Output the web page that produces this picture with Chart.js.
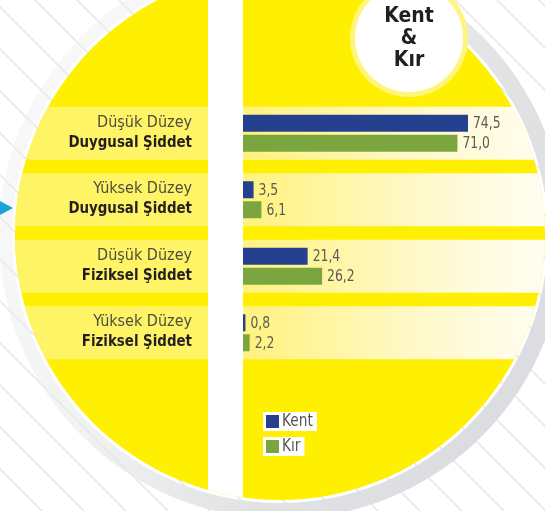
<!DOCTYPE html>
<html>
<head>
<meta charset="utf-8">
<script src="https://cdn.jsdelivr.net/npm/chart.js"></script>
<style type="text/css">
  body{ margin:0; background:#fff; }
  #wrap{ width:545px; height:511px; position:relative; }
</style>
</head>
<body>
<div id="wrap"><canvas id="chart" width="545" height="511"></canvas></div>
<script>
  // data
  const levels = ['Düşük Düzey', 'Yüksek Düzey', 'Düşük Düzey', 'Yüksek Düzey'];
  const types = ['Duygusal Şiddet', 'Duygusal Şiddet', 'Fiziksel Şiddet', 'Fiziksel Şiddet'];
  const kent = [74.5, 3.5, 21.4, 0.8];
  const kir = [71.0, 6.1, 26.2, 2.2];
  const seriesNames = ['Kent', 'Kır'];
  const title = ['Kent', '&', 'Kır'];

  const BLUE = '#25408f';
  const GREEN = '#7ba63f';
  const NARROW = '"DejaVu Sans Condensed", sans-serif';

  // yellow disc
  const CX = 280, CY = 235, R = 265;

  function fmt(v){ return v.toFixed(1).replace('.', ','); }

  // text squeezed sideways, to get closer to the narrow DIN face
  function squeezed(ctx, txt, x, y, sx){
    ctx.save();
    ctx.translate(x, y);
    ctx.scale(sx, 1);
    ctx.fillText(txt, 0, 0);
    ctx.restore();
  }

  const backdrop = {
    id: 'backdrop',
    beforeDraw(chart){
      const ctx = chart.ctx;
      const W = chart.width, H = chart.height;
      const y = chart.scales.y;
      ctx.save();

      // hatching
      ctx.strokeStyle = '#e6e6e6';
      ctx.lineWidth = 1.5;
      for (let x0 = -H; x0 < W + 20; x0 += 42) {
        ctx.beginPath();
        ctx.moveTo(x0, 0);
        ctx.lineTo(x0 + H, H);
        ctx.stroke();
      }

      // grey ring, faint on the left
      const g = ctx.createLinearGradient(0, 0, W, H * 0.6);
      g.addColorStop(0, 'rgba(240,240,241,0.3)');
      g.addColorStop(0.45, 'rgba(232,233,234,0.6)');
      g.addColorStop(0.75, 'rgba(224,225,227,0.95)');
      g.addColorStop(1, '#dcdde0');
      ctx.fillStyle = g;
      ctx.beginPath();
      ctx.arc(CX + 2, CY + 1, R + 18, 0, Math.PI * 2);
      ctx.arc(CX, CY, R + 3, 0, Math.PI * 2, true);
      ctx.fill();

      // yellow disc
      ctx.beginPath();
      ctx.arc(CX, CY, R, 0, Math.PI * 2);
      ctx.fillStyle = '#ffef00';
      ctx.fill();
      ctx.clip();

      // bands behind each category
      const area = chart.chartArea;
      const half = 26.5;
      levels.forEach((l, i) => {
        const c = y.getPixelForValue(i);
        ctx.fillStyle = '#fff466';
        ctx.fillRect(0, c - half, area.left, half * 2);
        const bg = ctx.createLinearGradient(area.left, 0, W, 0);
        bg.addColorStop(0, '#fff27e');
        bg.addColorStop(0.6, '#fff9cc');
        bg.addColorStop(1, '#fffdf2');
        ctx.fillStyle = bg;
        ctx.fillRect(area.left, c - half, W - area.left, half * 2);
      });

      // white stripe
      ctx.fillStyle = '#ffffff';
      ctx.fillRect(208, 0, area.left - 208, H);
      ctx.restore();
    },
    afterDraw(chart){
      const ctx = chart.ctx;
      const y = chart.scales.y;
      ctx.save();

      // category labels
      ctx.textAlign = 'right';
      ctx.textBaseline = 'middle';
      levels.forEach((l, i) => {
        const c = y.getPixelForValue(i);
        ctx.fillStyle = '#4d4c40';
        ctx.font = '16px ' + NARROW;
        squeezed(ctx, l, 192, c - 10.5, 1);
        ctx.fillStyle = '#231f20';
        ctx.font = 'bold 16px ' + NARROW;
        squeezed(ctx, types[i], 192, c + 9.5, 0.93);
      });

      // value labels
      ctx.textAlign = 'left';
      ctx.fillStyle = '#5a5a58';
      ctx.font = '16px ' + NARROW;
      chart.data.datasets.forEach((ds, d) => {
        chart.getDatasetMeta(d).data.forEach((bar, i) => {
          squeezed(ctx, fmt(ds.data[i]), bar.x + 5, bar.y + 1, 0.86);
        });
      });

      // legend
      const colors = [BLUE, GREEN];
      seriesNames.forEach((n, i) => {
        const top = 412 + i * 25;
        ctx.font = '17px ' + NARROW;
        const w = ctx.measureText(n).width * 0.9;
        ctx.fillStyle = '#ffffff';
        ctx.fillRect(263, top, w + 23, 19);
        ctx.fillStyle = colors[i];
        ctx.fillRect(266, top + 3, 13, 13);
        ctx.fillStyle = '#555555';
        squeezed(ctx, n, 282, top + 10, 0.9);
      });

      // badge
      ctx.beginPath();
      ctx.arc(409, 38, 59, 0, Math.PI * 2);
      ctx.fillStyle = '#fff57c';
      ctx.fill();
      ctx.beginPath();
      ctx.arc(409, 38, 54, 0, Math.PI * 2);
      ctx.fillStyle = '#ffffff';
      ctx.fill();
      ctx.fillStyle = '#231f20';
      ctx.textAlign = 'center';
      ctx.font = 'bold 21px "DejaVu Sans Condensed", sans-serif';
      title.forEach((t, i) => ctx.fillText(t, 409, 17 + i * 22));

      // arrow
      ctx.beginPath();
      ctx.moveTo(0, 201);
      ctx.lineTo(13, 208);
      ctx.lineTo(0, 215);
      ctx.closePath();
      ctx.fillStyle = '#1ba3dd';
      ctx.fill();
      ctx.restore();
    }
  };

  new Chart(document.getElementById('chart'), {
    type: 'bar',
    data: {
      labels: levels.map((l, i) => [l, types[i]]),
      datasets: [
        { label: seriesNames[0], data: kent, backgroundColor: BLUE },
        { label: seriesNames[1], data: kir, backgroundColor: GREEN }
      ]
    },
    options: {
      indexAxis: 'y',
      responsive: false,
      animation: false,
      categoryPercentage: 0.6015,
      barPercentage: 0.85,
      layout: { padding: { left: 243, right: 0, top: 100, bottom: 145 } },
      plugins: { legend: { display: false }, tooltip: { enabled: false } },
      scales: {
        x: { display: false, min: 0, max: 100 },
        y: { display: false }
      }
    },
    plugins: [backdrop]
  });
</script>
</body>
</html>
